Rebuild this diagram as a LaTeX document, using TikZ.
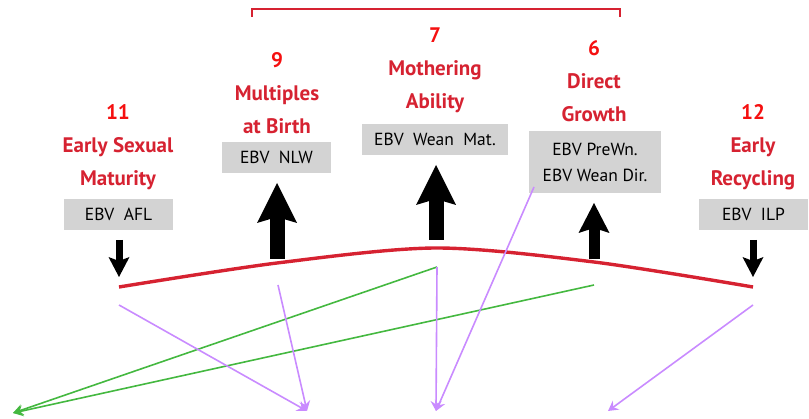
\documentclass[tikz,border=0pt]{standalone}
\usepackage{fontspec}
\setmainfont{PT Sans}
\usetikzlibrary{arrows.meta}
\definecolor{traitred}{HTML}{D62231}
\definecolor{numred}{HTML}{F51010}
\definecolor{ebvgray}{HTML}{D3D3D3}
\definecolor{linkpurple}{HTML}{C98BFF}
\definecolor{linkgreen}{HTML}{44B840}
\tikzset{
  trait/.style = {align=center, anchor=north, inner sep=0pt, text=traitred, font=\fontsize{21}{33}\selectfont\bfseries},
  ebv/.style = {rectangle, fill=ebvgray, align=center, inner sep=0pt, minimum height=31pt, minimum width=109pt, font=\fontsize{17.5}{26}\selectfont},
  up_big/.style = {line width=15pt, -{Stealth[length=40pt, width=40pt, inset=6pt, line width=0pt]}},
  up_small/.style = {line width=11pt, -{Stealth[length=30pt, width=31pt, inset=5pt, line width=0pt]}},
  down_small/.style = {line width=7pt, -{Stealth[length=20pt, width=21pt, inset=4pt, line width=0pt]}},
  link_p/.style = {draw=linkpurple, line width=1.6pt, -{Stealth[length=10pt, width=11pt, inset=3.5pt]}},
  link_g/.style = {link_p, draw=linkgreen}
}
\begin{document}
\begin{tikzpicture}[x=1pt, y=-1pt]
    \useasboundingbox (0,0) rectangle (809,419);
    \draw[traitred, line width=1.8pt] (252,17) |- (620,9) -- (620,17);
    \node[trait] (t_afl) at (118,104) {\textcolor{numred}{11}\\Early Sexual\\Maturity};
    \node[trait] (t_nlw) at (277,52) {\textcolor{numred}{9}\\Multiples\\at Birth};
    \node[trait] (t_mat) at (435,28) {\textcolor{numred}{7}\\Mothering\\Ability};
    \node[trait] (t_dir) at (594,40) {\textcolor{numred}{6}\\Direct\\Growth};
    \node[trait] (t_ilp) at (753,104) {\textcolor{numred}{12}\\Early\\Recycling};
    \node[ebv] (e_afl) at (118.5,214.5) {EBV\ \ AFL};
    \node[ebv] (e_nlw) at (276.5,157.5) {EBV\ \ NLW};
    \node[ebv, minimum width=146pt] (e_mat) at (435,139.5) {EBV\ \ Wean\ \ Mat.};
    \node[ebv, minimum width=132pt, minimum height=62pt] (e_dir) at (595,162) {EBV PreWn.\\EBV Wean Dir.};
    \node[ebv] (e_ilp) at (753.5,214.5) {EBV\ \ ILP};
    \coordinate (c1) at (119,287);
    \coordinate (c2) at (277,263);
    \coordinate (c3) at (436,248);
    \coordinate (c4) at (594,262);
    \coordinate (c5) at (753,287);
    \draw[traitred, line width=3.4pt] plot[smooth] coordinates {(c1) (c2) (c3) (c4) (c5)};
    \coordinate (a_afl) at (119,240);
    \coordinate (b_afl) at (119,277);
    \coordinate (a_nlw) at (277,259);
    \coordinate (b_nlw) at (277,183);
    \coordinate (a_mat) at (436,240);
    \coordinate (b_mat) at (436,165);
    \coordinate (a_dir) at (594,259);
    \coordinate (b_dir) at (594,203);
    \coordinate (a_ilp) at (753,240);
    \coordinate (b_ilp) at (753,277);
    \draw[down_small] (a_afl) -- (b_afl);
    \draw[up_big] (a_nlw) -- (b_nlw);
    \draw[up_big] (a_mat) -- (b_mat);
    \draw[up_small] (a_dir) -- (b_dir);
    \draw[down_small] (a_ilp) -- (b_ilp);
    \coordinate (s_afl) at (119,305);
    \coordinate (s_nlw) at (278,285);
    \coordinate (s_mat) at (437,267);
    \coordinate (s_dir) at (594,285);
    \coordinate (s_ilp) at (753,305);
    \coordinate (s_wd) at (534,187);
    \coordinate (g_end) at (13,413);
    \coordinate (p_one) at (307,411);
    \coordinate (p_two) at (436,411);
    \coordinate (p_three) at (608,411);
    \draw[link_g] (s_mat) -- (g_end);
    \draw[link_g] (s_dir) -- (g_end);
    \draw[link_p] (s_afl) -- (p_one);
    \draw[link_p] (s_nlw) -- (p_one);
    \draw[link_p] (s_mat) -- (p_two);
    \draw[link_p] (s_wd) -- (p_two);
    \draw[link_p] (s_ilp) -- (p_three);
\end{tikzpicture}
\end{document}
